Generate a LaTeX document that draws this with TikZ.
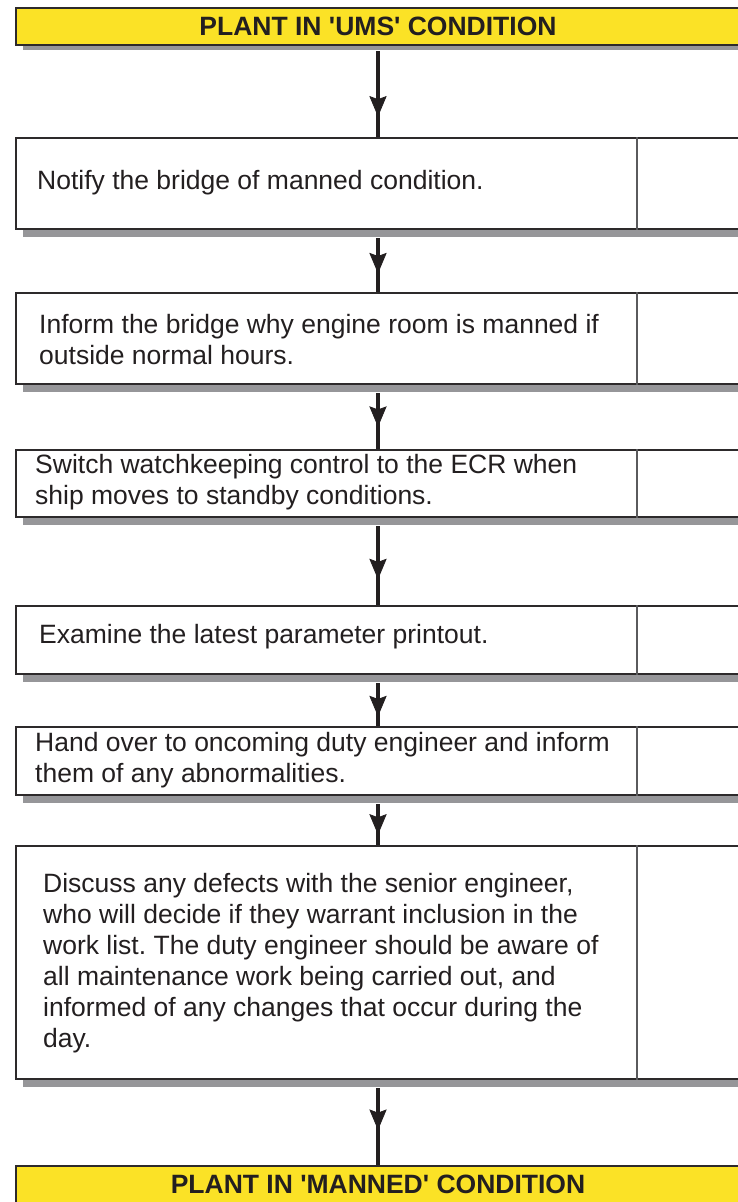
\documentclass[tikz,border=0pt]{standalone}
\usepackage{fontspec}
\setmainfont{Liberation Sans}
\usetikzlibrary{shadows,decorations.markings,arrows.meta}
\definecolor{ylw}{RGB}{251,226,38}
\definecolor{shd}{RGB}{150,150,153}
\definecolor{edge}{RGB}{45,42,43}
\definecolor{dvd}{RGB}{90,90,92}
\definecolor{ink}{RGB}{35,31,32}
\frenchspacing
\begin{document}
\begin{tikzpicture}[x=1pt,y=-1pt,
  stepbox/.style={draw=edge, line width=2pt, fill=white, minimum width=724pt, inner sep=0pt,
    drop shadow={shadow xshift=7pt, shadow yshift=-8pt, fill=shd, opacity=1}},
  headbox/.style={draw=edge, line width=2pt, fill=ylw, minimum width=724pt, minimum height=37pt, inner sep=0pt,
    text=ink, font=\bfseries\fontsize{26.5}{30}\selectfont,
    drop shadow={shadow xshift=7pt, shadow yshift=-5pt, fill=shd, opacity=1}},
  endbox/.style={draw=edge, line width=2pt, fill=ylw, minimum width=724pt, minimum height=37pt, inner sep=0pt,
    text=ink, font=\bfseries\fontsize{26.5}{30}\selectfont},
  txt/.style={anchor=west, align=left, inner sep=0pt, text=ink, font=\fontsize{26.5}{31}\selectfont},
  divider/.style={draw=dvd, line width=2.5pt},
  flow/.style={line width=4pt, draw=ink, postaction={decorate, decoration={markings,
    mark=at position #1 with {\filldraw[ink, line width=0.8pt, line join=miter] (1pt,0pt) -- (-18pt,8pt) -- (-15pt,0pt) -- (-18pt,-8pt) -- cycle;}}}}
]
\useasboundingbox (0,0) rectangle (738,1202);
\clip (0,0) rectangle (738,1202);
\coordinate (dv) at (637,0);

% boxes
\node[headbox] (top) at (378,26.5) {PLANT IN \textquotesingle UMS\textquotesingle\ CONDITION};
\node[stepbox, minimum height=91pt] (b1) at (378,183.5) {};
\node[stepbox, minimum height=91pt] (b2) at (378,338.5) {};
\node[stepbox, minimum height=67pt] (b3) at (378,483.5) {};
\node[stepbox, minimum height=68pt] (b4) at (378,640) {};
\node[stepbox, minimum height=68pt] (b5) at (378,761) {};
\node[stepbox, minimum height=233pt] (b6) at (378,962.5) {};
\node[endbox] (bot) at (378,1184.5) {PLANT IN \textquotesingle MANNED\textquotesingle\ CONDITION};

% dividers
\foreach \b in {b1,b2,b3,b4,b5,b6}{
  \draw[divider] (\b.north -| dv) -- (\b.south -| dv);
}

% texts
\node[txt] (t1) at (37,183) {Notify the bridge of manned condition.};
\node[txt] (t2) at (39,340) {Inform the bridge why engine room is manned if\\outside normal hours.};
\node[txt] (t3) at (35,482) {Switch watchkeeping control to the ECR when\\ship moves to standby conditions.};
\node[txt] (t4) at (39,637) {Examine the latest parameter printout.};
\node[txt] (t5) at (35,760) {Hand over to oncoming duty engineer and inform\\them of any abnormalities.};
\node[txt] (t6) at (43,963) {Discuss any defects with the senior engineer,\\who will decide if they warrant inclusion in the\\work list. The duty engineer should be aware of\\all maintenance work being carried out, and\\informed of any changes that occur during the\\day.};

% connectors
\draw[flow=0.74] ([yshift=-5pt]top.south) -- (b1.north);
\draw[flow=0.62] ([yshift=-8pt]b1.south) -- (b2.north);
\draw[flow=0.57] ([yshift=-8pt]b2.south) -- (b3.north);
\draw[flow=0.65] ([yshift=-8pt]b3.south) -- (b4.north);
\draw[flow=0.73] ([yshift=-8pt]b4.south) -- (b5.north);
\draw[flow=0.70] ([yshift=-8pt]b5.south) -- (b6.north);
\draw[flow=0.52] ([yshift=-8pt]b6.south) -- (bot.north);
\end{tikzpicture}
\end{document}
